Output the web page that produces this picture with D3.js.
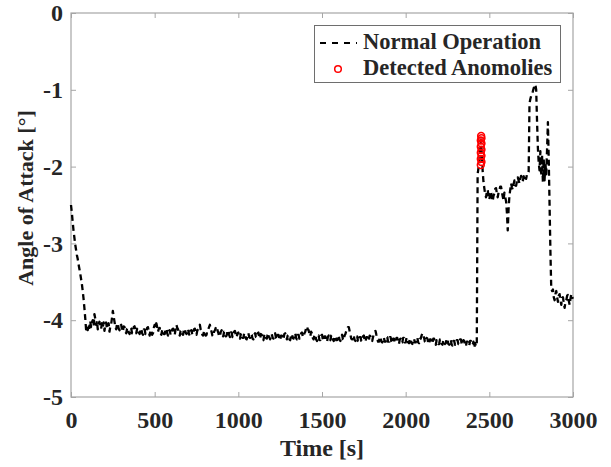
<!DOCTYPE html>
<html>
<head>
<meta charset="utf-8">
<script src="https://cdn.jsdelivr.net/npm/d3@7"></script>
<style>
  html, body { margin: 0; padding: 0; background: #fff; }
  svg { display: block; }
  text { font-family: "Liberation Serif", "Times New Roman", serif; font-weight: bold; fill: #262626; }
</style>
</head>
<body>
<svg id="chart" width="611" height="467"></svg>
<script>
// Angle of attack sampled every 5 s, from t = 0 to t = 3000 s (20 samples per row)
const sampleStep = 5;
const angleOfAttack = [
  -2.50,-2.60,-2.72,-2.83,-2.92,-3.01,-3.08,-3.15,-3.20,-3.27,-3.33,-3.39,-3.46,-3.53,-3.62,-3.72,-3.84,-3.97,-4.12,-4.08,
  -4.13,-4.05,-4.10,-4.01,-4.09,-4.03,-4.00,-4.08,-3.92,-3.98,-4.06,-4.01,-4.12,-4.05,-4.02,-4.10,-4.11,-4.04,-4.09,-4.03,
  -4.14,-4.06,-4.03,-4.11,-4.10,-4.04,-4.15,-4.08,-4.05,-3.97,-3.88,-3.95,-4.02,-4.09,-4.12,-4.05,-4.04,-4.11,-4.13,-4.07,
  -4.06,-4.13,-4.15,-4.08,-4.09,-4.15,-4.17,-4.11,-4.10,-4.16,-4.18,-4.10,-4.11,-4.17,-4.16,-4.09,-4.08,-4.14,-4.17,-4.11,
  -4.10,-4.16,-4.18,-4.12,-4.11,-4.17,-4.19,-4.12,-4.12,-4.18,-4.16,-4.10,-4.09,-4.15,-4.20,-4.13,-4.13,-4.19,-4.17,-4.10,
  -4.06,-4.10,-4.04,-4.09,-4.15,-4.11,-4.10,-4.17,-4.19,-4.13,-4.12,-4.18,-4.18,-4.12,-4.11,-4.17,-4.20,-4.14,-4.13,-4.19,
  -4.18,-4.12,-4.11,-4.17,-4.19,-4.12,-4.06,-4.10,-4.12,-4.17,-4.20,-4.14,-4.13,-4.18,-4.19,-4.12,-4.11,-4.16,-4.18,-4.12,
  -4.12,-4.18,-4.20,-4.14,-4.13,-4.19,-4.18,-4.12,-4.11,-4.17,-4.19,-4.13,-4.12,-4.09,-4.06,-4.12,-4.14,-4.19,-4.20,-4.14,
  -4.14,-4.20,-4.19,-4.13,-4.12,-4.09,-4.06,-4.12,-4.15,-4.20,-4.21,-4.15,-4.13,-4.10,-4.08,-4.13,-4.16,-4.21,-4.21,-4.15,
  -4.13,-4.19,-4.21,-4.15,-4.15,-4.21,-4.20,-4.14,-4.13,-4.19,-4.22,-4.16,-4.16,-4.22,-4.21,-4.15,-4.14,-4.20,-4.22,-4.17,
  -4.16,-4.22,-4.24,-4.18,-4.17,-4.23,-4.23,-4.17,-4.18,-4.24,-4.25,-4.19,-4.17,-4.22,-4.23,-4.18,-4.19,-4.24,-4.25,-4.19,
  -4.17,-4.22,-4.23,-4.17,-4.16,-4.22,-4.24,-4.18,-4.19,-4.25,-4.26,-4.20,-4.18,-4.23,-4.24,-4.19,-4.17,-4.22,-4.25,-4.19,
  -4.18,-4.23,-4.24,-4.18,-4.17,-4.23,-4.25,-4.19,-4.19,-4.25,-4.26,-4.20,-4.20,-4.25,-4.24,-4.18,-4.17,-4.22,-4.25,-4.20,
  -4.19,-4.25,-4.26,-4.20,-4.18,-4.23,-4.24,-4.18,-4.17,-4.23,-4.25,-4.19,-4.19,-4.24,-4.23,-4.17,-4.16,-4.21,-4.22,-4.17,
  -4.15,-4.10,-4.08,-4.12,-4.13,-4.18,-4.21,-4.15,-4.17,-4.23,-4.25,-4.19,-4.19,-4.25,-4.27,-4.21,-4.20,-4.26,-4.26,-4.20,
  -4.19,-4.25,-4.27,-4.21,-4.21,-4.27,-4.28,-4.22,-4.20,-4.25,-4.26,-4.20,-4.19,-4.25,-4.27,-4.21,-4.21,-4.26,-4.26,-4.20,
  -4.20,-4.26,-4.27,-4.21,-4.19,-4.25,-4.26,-4.20,-4.18,-4.14,-4.12,-4.09,-4.09,-4.14,-4.19,-4.24,-4.25,-4.20,-4.20,-4.26,
  -4.27,-4.21,-4.21,-4.27,-4.28,-4.22,-4.22,-4.27,-4.27,-4.21,-4.20,-4.26,-4.28,-4.22,-4.22,-4.27,-4.26,-4.20,-4.21,-4.26,
  -4.27,-4.22,-4.18,-4.15,-4.14,-4.19,-4.23,-4.28,-4.28,-4.22,-4.22,-4.28,-4.29,-4.23,-4.23,-4.28,-4.28,-4.22,-4.22,-4.28,
  -4.28,-4.22,-4.22,-4.28,-4.30,-4.24,-4.24,-4.29,-4.29,-4.23,-4.23,-4.29,-4.31,-4.25,-4.24,-4.29,-4.29,-4.23,-4.23,-4.29,
  -4.29,-4.23,-4.23,-4.29,-4.30,-4.24,-4.25,-4.30,-4.31,-4.25,-4.24,-4.29,-4.29,-4.23,-4.23,-4.29,-4.30,-4.24,-4.24,-4.20,
  -4.17,-4.20,-4.23,-4.28,-4.29,-4.23,-4.24,-4.30,-4.31,-4.25,-4.25,-4.30,-4.30,-4.24,-4.24,-4.30,-4.32,-4.26,-4.26,-4.31,
  -4.31,-4.25,-4.25,-4.31,-4.32,-4.26,-4.26,-4.31,-4.30,-4.24,-4.25,-4.31,-4.32,-4.26,-4.26,-4.32,-4.33,-4.27,-4.27,-4.32,
  -4.32,-4.26,-4.26,-4.31,-4.31,-4.25,-4.25,-4.31,-4.32,-4.26,-4.27,-4.33,-4.34,-4.28,-4.28,-4.33,-4.33,-4.27,-4.27,-4.31,
  -4.32,-4.28,-4.36,-4.30,-4.34,-4.30,-2.10,-2.02,-1.95,-1.80,-1.65,-1.85,-2.05,-2.20,-2.28,-2.36,-2.40,-2.33,-2.30,-2.38,
  -2.43,-2.36,-2.32,-2.40,-2.45,-2.38,-2.35,-2.29,-2.28,-2.35,-2.40,-2.34,-2.31,-2.26,-2.26,-2.33,-2.39,-2.44,-2.34,-2.40,
  -2.45,-2.60,-2.83,-2.55,-2.38,-2.30,-2.22,-2.27,-2.30,-2.23,-2.18,-2.24,-2.25,-2.19,-2.14,-2.18,-2.22,-2.16,-2.12,-2.17,
  -2.19,-2.13,-2.10,-2.15,-2.16,-2.10,-2.10,-2.07,-1.18,-1.12,-1.08,-1.05,-1.02,-0.98,-0.95,-0.93,-1.00,-1.40,-1.75,-1.95,
  -2.05,-1.80,-2.12,-1.85,-2.20,-1.90,-2.18,-1.95,-2.10,-1.78,-1.42,-1.90,-2.50,-3.10,-3.58,-3.62,-3.60,-3.70,-3.74,-3.66,
  -3.62,-3.70,-3.76,-3.68,-3.66,-3.74,-3.80,-3.71,-3.70,-3.78,-3.84,-3.76,-3.74,-3.68,-3.67,-3.75,-3.80,-3.72,-3.66,-3.70,
  -3.72
];

// Samples flagged by the detector
const anomalyTimes  = [2449, 2453, 2449, 2453, 2449, 2453, 2449, 2453, 2449, 2453, 2451];
const anomalyValues = [-1.98,-1.94,-1.90,-1.86,-1.82,-1.78,-1.74,-1.70,-1.66,-1.63,-1.60];

const xTicks = [0, 500, 1000, 1500, 2000, 2500, 3000];
const yTicks = [0, -1, -2, -3, -4, -5];
const legendLabels = ["Normal Operation", "Detected Anomolies"];

const svg = d3.select("#chart");
const plot = { left: 71, right: 573, top: 13, bottom: 397 };
const axisGrey = "#a6a6a6";

const x = d3.scaleLinear().domain([0, 3000]).range([plot.left, plot.right]);
const y = d3.scaleLinear().domain([-5, 0]).range([plot.bottom, plot.top]);

const series = angleOfAttack.map((v, i) => ({ t: i * sampleStep, v }));
const anomalies = anomalyTimes.map((t, i) => ({ t, v: anomalyValues[i] }));

// Plain hyphen-minus tick labels
const plainFormat = d => String(d);

// Inward-pointing ticks on all four sides of the box
function styleAxis(g) {
  g.select(".domain").remove();
  g.selectAll(".tick line").attr("stroke", axisGrey).attr("stroke-width", 1);
}
function styleLabels(g) {
  g.selectAll(".tick text").attr("font-size", 24).attr("fill", "#262626")
    .attr("font-family", "Liberation Serif").attr("font-weight", "bold");
}
svg.append("g").attr("transform", `translate(0,${plot.bottom})`)
  .call(d3.axisBottom(x).tickValues(xTicks).tickSize(-5).tickPadding(14).tickFormat(plainFormat))
  .call(styleAxis).call(styleLabels);
svg.append("g").attr("transform", `translate(0,${plot.top})`)
  .call(d3.axisTop(x).tickValues(xTicks).tickSize(-5).tickFormat(""))
  .call(styleAxis);
svg.append("g").attr("transform", `translate(${plot.left},0)`)
  .call(d3.axisLeft(y).tickValues(yTicks).tickSize(-5).tickPadding(8).tickFormat(plainFormat))
  .call(styleAxis).call(styleLabels);
svg.append("g").attr("transform", `translate(${plot.right},0)`)
  .call(d3.axisRight(y).tickValues(yTicks).tickSize(-5).tickFormat(""))
  .call(styleAxis);

// Box outline
svg.append("rect")
  .attr("x", plot.left).attr("y", plot.top)
  .attr("width", plot.right - plot.left).attr("height", plot.bottom - plot.top)
  .attr("fill", "none").attr("stroke", axisGrey).attr("stroke-width", 1.2);

// Measured angle of attack
const line = d3.line().x(d => x(d.t)).y(d => y(d.v));
svg.append("path")
  .datum(series)
  .attr("d", line)
  .attr("fill", "none")
  .attr("stroke", "#000")
  .attr("stroke-width", 2.3)
  .attr("stroke-dasharray", "6,4")
  .attr("stroke-linejoin", "round");

// Detected anomalies
svg.append("g").selectAll("circle")
  .data(anomalies)
  .join("circle")
  .attr("cx", d => x(d.t))
  .attr("cy", d => y(d.v))
  .attr("r", 3.4)
  .attr("fill", "none")
  .attr("stroke", "#ff0000")
  .attr("stroke-width", 1.6);

// Axis titles
svg.append("text")
  .attr("x", (plot.left + plot.right) / 2).attr("y", 456)
  .attr("text-anchor", "middle").attr("font-size", 24)
  .text("Time [s]");
svg.append("text")
  .attr("transform", "translate(33,198) rotate(-90)")
  .attr("text-anchor", "middle").attr("font-size", 22)
  .text("Angle of Attack [°]");

// Legend
const legend = svg.append("g");
legend.append("rect")
  .attr("x", 314.5).attr("y", 25.5).attr("width", 246).attr("height", 57)
  .attr("fill", "#fff").attr("stroke", "#6e6e6e").attr("stroke-width", 1);
legend.append("line")
  .attr("x1", 320).attr("x2", 357).attr("y1", 43).attr("y2", 43)
  .attr("stroke", "#000").attr("stroke-width", 2).attr("stroke-dasharray", "6,6");
legend.append("circle")
  .attr("cx", 338).attr("cy", 69).attr("r", 3.3)
  .attr("fill", "none").attr("stroke", "#ff0000").attr("stroke-width", 1.5);
legend.selectAll("text.label")
  .data(legendLabels)
  .join("text")
  .attr("class", "label")
  .attr("x", 363)
  .attr("y", (d, i) => i === 0 ? 49 : 75)
  .attr("font-size", 22.5)
  .text(d => d);
</script>
</body>
</html>
